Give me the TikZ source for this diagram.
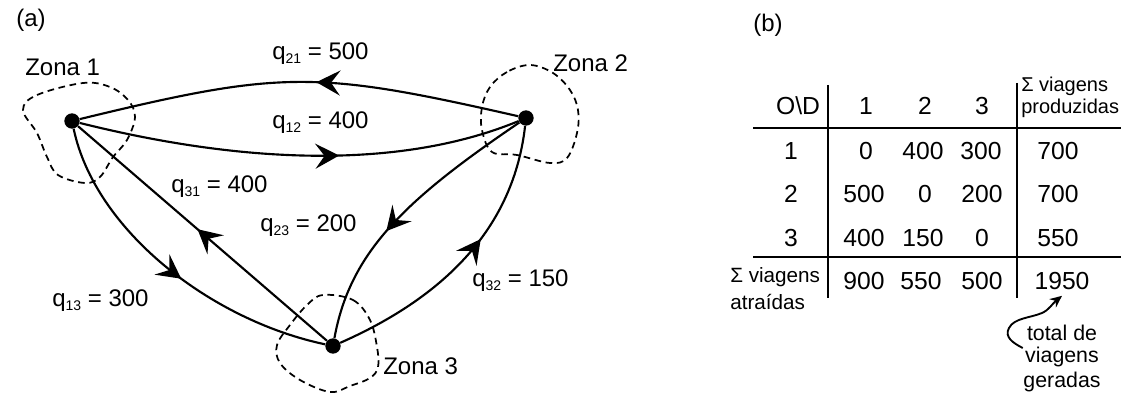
\documentclass[tikz,border=0pt]{standalone}
\usepackage{fontspec}
\setmainfont{Liberation Sans}
\usetikzlibrary{arrows.meta}
\newcommand\sbx[1]{\raisebox{-2.5pt}{\fontsize{10.5}{10.5}\selectfont #1}}
\begin{document}
\begin{tikzpicture}[x=0.75pt,y=-0.75pt,
  lbl/.style={font=\fontsize{18}{21}\selectfont, inner sep=0pt, anchor=base west},
  tnum/.style={font=\fontsize{18.5}{21}\selectfont, inner sep=0pt, anchor=base},
  tsm/.style={font=\fontsize{15.5}{18}\selectfont, inner sep=0pt, anchor=base west},
  tann/.style={font=\fontsize{16}{18}\selectfont, inner sep=0pt, anchor=base},
  zdot/.style={circle, fill=black, inner sep=0pt, minimum size=11.5pt},
  flow/.style={line width=1.6pt},
  zoneline/.style={line width=1.3pt, dash pattern=on 5pt off 3.5pt},
  ahead/.pic={\fill (0pt,0pt) -- (-18pt,9.5pt) -- (-11pt,0pt) -- (-18pt,-9.5pt) -- cycle;},
  aon/.style={sloped, allow upside down, pos=#1},
  tabrule/.style={line width=1.7pt}
]
\useasboundingbox (0,0) rectangle (1121,395);

% zones
\draw[zoneline] plot[smooth cycle, tension=0.6] coordinates {(23,110) (37,95) (83,83) (110,87) (128,100) (135,117) (127,140) (113,157) (100,177) (85,183) (58,175) (47,157) (37,133)};
\draw[zoneline] plot[smooth cycle, tension=0.6] coordinates {(530,65) (507,72) (490,87) (482,107) (482,130) (492,152) (517,155) (550,163) (567,158) (577,133) (578,110) (570,90) (553,73)};
\draw[zoneline] plot[smooth cycle, tension=0.6] coordinates {(323,295) (353,300) (370,320) (377,347) (378,367) (370,378) (350,386) (330,392) (300,380) (280,363) (277,345) (290,325) (307,305)};

\node[zdot] (z1) at (72,121) {};
\node[zdot] (z2) at (526,118) {};
\node[zdot] (z3) at (333,346) {};

% flows
\draw[flow] (z2) .. controls (315,70) and (282,70) .. (z1) pic[aon=0.45] {ahead};
\draw[flow] (z1) .. controls (260,168) and (410,166) .. (z2) pic[aon=0.53] {ahead};
\draw[flow] (z3) -- (z1) pic[aon=0.52] {ahead};
\draw[flow] (z1) .. controls (95,230) and (210,320) .. (z3) pic[aon=0.56] {ahead};
\draw[flow] (z2) .. controls (405,200) and (350,252) .. (z3) pic[aon=0.52] {ahead};
\draw[flow] (z3) .. controls (460,290) and (515,215) .. (z2) pic[aon=0.54] {ahead};

% labels (a)
\node[lbl] (ta) at (16,27) {(a)};
\node[lbl] (tz1) at (25,76) {Zona 1};
\node[lbl] (tz2) at (553,72) {Zona 2};
\node[lbl] (tz3) at (383,374) {Zona 3};
\node[lbl] (l21) at (272,60) {q\sbx{21} = 500};
\node[lbl] (l12) at (272,129) {q\sbx{12} = 400};
\node[lbl] (l31) at (171,193) {q\sbx{31} = 400};
\node[lbl] (l23) at (260,232) {q\sbx{23} = 200};
\node[lbl] (l13) at (52,307) {q\sbx{13} = 300};
\node[lbl] (l32) at (472,287) {q\sbx{32} = 150};

% table (b)
\node[lbl] (tb) at (753,32) {(b)};
\draw[tabrule] (828,85) -- (828,298);
\draw[tabrule] (1017,83) -- (1017,298);
\draw[tabrule] (753,128) -- (1121,128);
\draw[tabrule] (753,257) -- (1121,257);

\node[tnum] (hod) at (798,115) {O\textbackslash D};
\node[tnum] (h1) at (866,115) {1};
\node[tnum] (h2) at (925,115) {2};
\node[tnum] (h3) at (982,115) {3};
\node[tsm, font=\fontsize{15}{18}\selectfont] (hs1) at (1021,92) {Σ viagens};
\node[tsm, font=\fontsize{15}{18}\selectfont] (hs2) at (1021,114) {produzidas};

\node[tnum] (r1) at (791,160) {1};
\node[tnum] (c11) at (866,160) {0};
\node[tnum] (c12) at (923,160) {400};
\node[tnum] (c13) at (981,160) {300};
\node[tnum] (s1) at (1058,160) {700};

\node[tnum] (r2) at (791,203) {2};
\node[tnum] (c21) at (864,203) {500};
\node[tnum] (c22) at (925,203) {0};
\node[tnum] (c23) at (982,203) {200};
\node[tnum] (s2) at (1058,203) {700};

\node[tnum] (r3) at (791,247) {3};
\node[tnum] (c31) at (864,247) {400};
\node[tnum] (c32) at (923,247) {150};
\node[tnum] (c33) at (982,247) {0};
\node[tnum] (s3) at (1058,247) {550};

\node[tsm] (fs1) at (730,283) {Σ viagens};
\node[tsm] (fs2) at (730,310) {atraídas};
\node[tnum] (a1) at (864,290) {900};
\node[tnum] (a2) at (921,290) {550};
\node[tnum] (a3) at (982,290) {500};
\node[tnum] (n1950) at (1062,290) {1950};

\node[tann] (ann1) at (1062,340) {total de};
\node[tann] (ann2) at (1062,363) {viagens};
\node[tann] (ann3) at (1062,387) {geradas};

\draw[line width=1.4pt, -{Stealth[length=9pt,width=8pt]}] ([xshift=-3pt,yshift=-6pt]ann1.base west) .. controls (1013,343) and (1004,337) .. (1009,328) .. controls (1014,318) and (1030,318) .. (1042,313) .. controls (1049,310) and (1053,303) .. ([yshift=-4pt]n1950.south);
\end{tikzpicture}
\end{document}
